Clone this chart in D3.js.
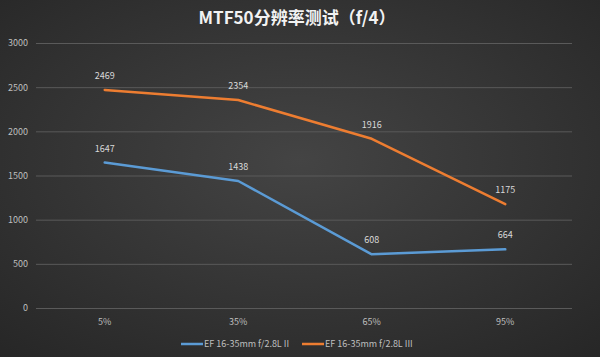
<!DOCTYPE html>
<html><head><meta charset="utf-8">
<script src="https://cdn.jsdelivr.net/npm/d3@7"></script>
<style>body{margin:0;background:#333}svg{display:block}</style>
</head><body>
<script>
const categories = ["5%", "35%", "65%", "95%"];
const seriesNames = ["EF 16-35mm f/2.8L II", "EF 16-35mm f/2.8L III"];
const seriesII = [1647, 1438, 608, 664];
const seriesIII = [2469, 2354, 1916, 1175];
const yTicks = [0, 500, 1000, 1500, 2000, 2500, 3000];
const colors = ["#5b9bd5", "#ed7d31"];
const titleText = "MTF50分辨率测试（f/4）";

const W = 600, H = 357;
const svg = d3.select("body").append("svg").attr("width", W).attr("height", H);
const defs = svg.append("defs");
const rg = defs.append("radialGradient").attr("id", "bg").attr("cx", "50%").attr("cy", "45%").attr("r", "75%");
rg.append("stop").attr("offset", "0%").attr("stop-color", "#444444");
rg.append("stop").attr("offset", "100%").attr("stop-color", "#262626");
svg.append("rect").attr("width", W).attr("height", H).attr("fill", "url(#bg)");

const font = "'Noto Sans CJK SC','Noto Sans',sans-serif";
svg.append("text").attr("x", 297).attr("y", 24).attr("text-anchor", "middle")
  .attr("fill", "#f2f2f2").attr("font-family", font).attr("font-weight", "bold")
  .attr("font-size", 17).text(titleText);

const x = d3.scaleBand().domain(categories).range([38, 572]);
const y = d3.scaleLinear().domain([0, 3000]).range([308, 43]);

const g = svg.append("g");
const yAxis = d3.axisLeft(y).tickValues(yTicks).tickSize(-(572 - 36)).tickFormat(d3.format("d"));
const ya = g.append("g").attr("transform", "translate(36,0)").call(yAxis);
ya.select(".domain").remove();
ya.selectAll(".tick line").attr("stroke", "#5a5a5a").attr("stroke-width", 1);
ya.selectAll(".tick text").attr("fill", "#bfbfbf").attr("font-size", 9).attr("font-family", font).attr("x", -8);

const xAxis = d3.axisBottom(x).tickSize(0);
const xa = g.append("g").attr("transform", "translate(0,308)").call(xAxis);
xa.select(".domain").remove();
xa.selectAll(".tick text").attr("fill", "#bfbfbf").attr("font-size", 9).attr("font-family", font).attr("dy", "1.6em");

const cx = d => x(d) + x.bandwidth() / 2;
const line = d3.line().x((d, i) => cx(categories[i])).y(d => y(d));
[seriesII, seriesIII].forEach((s, k) => {
  g.append("path").datum(s).attr("d", line).attr("fill", "none")
    .attr("stroke", colors[k]).attr("stroke-width", 2.5).attr("stroke-linejoin", "round").attr("stroke-linecap", "round");
  g.selectAll(null).data(s).enter().append("text")
    .attr("x", (d, i) => cx(categories[i])).attr("y", d => y(d) - 11)
    .attr("text-anchor", "middle").attr("fill", "#d9d9d9").attr("font-size", 9).attr("font-family", font)
    .text(d => d);
});

const legend = svg.append("g");
const items = [{x: 181, i: 0}, {x: 302, i: 1}];
items.forEach(it => {
  legend.append("line").attr("x1", it.x).attr("x2", it.x + 22).attr("y1", 344).attr("y2", 344)
    .attr("stroke", colors[it.i]).attr("stroke-width", 2.5);
  legend.append("text").attr("x", it.x + 23).attr("y", 347).attr("fill", "#bfbfbf")
    .attr("font-size", 9).attr("font-family", font).text(seriesNames[it.i]);
});
</script>
</body></html>
